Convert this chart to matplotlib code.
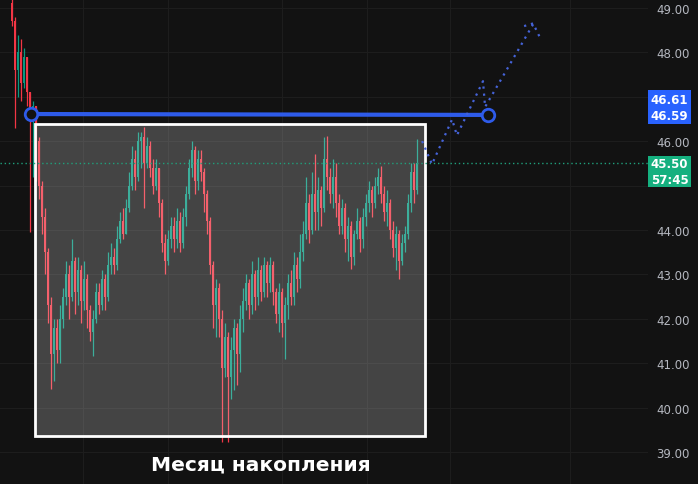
import numpy as np
import matplotlib
matplotlib.use("Agg")
import matplotlib.pyplot as plt
from matplotlib.patches import Rectangle

# candle data (one candle per bar, open = previous close)
first_open = 49.10
closes = [48.7, 47.6, 48.0, 47.3, 47.9, 47.1, 46.5, 46.8, 46.0, 45.0,
          44.3, 43.5, 42.3, 41.2, 41.8, 41.3, 42.0, 42.5, 43.0, 42.5,
          43.3, 42.6, 43.1, 42.4, 42.9, 42.2, 41.7, 42.0, 42.6, 42.3,
          42.9, 42.5, 43.2, 43.4, 43.2, 43.8, 44.2, 43.9, 44.5, 45.0,
          45.6, 45.2, 46.0, 46.1, 45.5, 45.9, 45.4, 45.0, 45.4, 44.6,
          43.7, 43.3, 43.8, 44.1, 43.8, 44.2, 43.7, 44.3, 44.8, 45.4,
          45.8, 45.1, 45.6, 45.3, 44.8, 44.2, 43.2, 42.3, 42.7, 42.0,
          40.9, 41.6, 40.7, 41.3, 41.8, 41.2, 42.0, 42.4, 42.8, 42.3,
          43.0, 42.5, 43.1, 42.6, 43.2, 42.8, 43.2, 42.6, 42.1, 42.6,
          41.9, 42.3, 42.8, 42.5, 43.2, 42.9, 43.5, 43.9, 44.6, 44.0,
          44.8, 44.4, 44.9, 44.5, 45.6, 45.2, 44.8, 45.2, 44.6, 44.1,
          44.5, 43.8, 44.1, 43.4, 43.9, 44.2, 43.8, 44.3, 44.6, 44.9,
          44.6, 45.0, 45.2, 44.8, 44.4, 44.6, 44.0, 43.6, 43.9, 43.3,
          43.7, 43.9, 44.6, 45.3, 44.9, 45.5]
highs = [49.2, 48.8, 48.4, 48.3, 48.1, 47.9, 47.1, 46.9, 46.8, 46.1,
         45.1, 44.5, 43.6, 42.5, 42.0, 42.0, 42.3, 42.7, 43.3, 43.2,
         43.8, 43.4, 43.4, 43.2, 43.3, 43.0, 42.3, 42.2, 42.8, 42.8,
         43.1, 43.0, 43.5, 43.7, 43.6, 44.1, 44.4, 44.5, 44.7, 45.3,
         45.9, 45.8, 46.2, 46.2, 46.32, 46.1, 46.0, 45.6, 45.6, 45.4,
         44.7, 43.9, 44.0, 44.3, 44.3, 44.5, 44.4, 44.5, 45.0, 45.6,
         46.0, 45.9, 45.8, 45.8, 45.4, 44.9, 44.3, 43.3, 42.9, 42.8,
         42.2, 41.9, 41.7, 41.6, 42.0, 41.9, 42.3, 42.7, 43.0, 42.9,
         43.3, 43.1, 43.4, 43.2, 43.4, 43.3, 43.4, 43.3, 42.7, 42.8,
         42.7, 42.5, 43.0, 43.1, 43.5, 43.4, 43.9, 44.2, 45.2, 44.8,
         45.3, 45.7, 45.2, 45.0, 46.1, 46.12, 45.4, 45.6, 45.5, 44.8,
         44.7, 44.6, 44.3, 44.2, 44.0, 44.5, 44.3, 44.5, 44.8, 45.1,
         45.0, 45.2, 45.4, 45.44, 45.0, 44.9, 44.7, 44.2, 44.1, 44.0,
         43.9, 44.1, 44.8, 45.5, 45.5, 46.05]
lows = [48.6, 46.3, 47.0, 46.9, 47.2, 46.8, 43.95, 45.2, 45.1, 44.7,
        43.9, 43.0, 41.9, 40.42, 40.6, 41.0, 41.0, 41.8, 42.3, 42.0,
        42.4, 42.1, 42.3, 41.9, 42.2, 41.8, 41.5, 41.16, 41.9, 42.1,
        42.2, 42.2, 42.4, 43.0, 43.0, 43.1, 43.7, 43.8, 43.9, 44.4,
        44.9, 44.9, 45.1, 45.4, 44.5, 45.4, 45.2, 44.8, 44.9, 44.3,
        43.5, 43.0, 43.2, 43.6, 43.5, 43.6, 43.5, 43.6, 44.1, 44.7,
        45.2, 44.8, 44.9, 45.1, 44.4, 43.9, 43.0, 41.8, 41.6, 41.6,
        39.22, 40.7, 39.22, 40.2, 40.4, 40.5, 40.8, 41.7, 42.2, 42.0,
        42.1, 42.2, 42.3, 42.4, 42.5, 42.5, 42.6, 42.3, 41.9, 41.7,
        41.6, 41.1, 42.0, 42.3, 42.3, 42.6, 42.7, 43.3, 43.8, 43.7,
        43.9, 44.0, 44.0, 44.1, 44.4, 44.9, 44.6, 44.5, 44.3, 43.9,
        43.9, 43.5, 43.3, 43.12, 43.2, 43.8, 43.5, 43.6, 44.1, 44.4,
        44.3, 44.5, 44.8, 44.6, 44.2, 44.1, 43.8, 43.4, 43.1, 42.9,
        43.2, 43.5, 43.8, 44.4, 44.6, 44.8]

# drawings
level_left = 46.61
level_right = 46.59
level_x = [6.3, 158.7]
box_x = [7.7, 137.7]
box_y = [39.36, 46.39]
last_price = 45.50
timer_text = "57:45"
path_x = [136.7, 140.0, 146.7, 148.3, 157.0, 157.7, 173.7]
path_y = [46.00, 45.48, 46.49, 46.13, 47.35, 46.77, 48.63]
head_x = [170.7, 173.7, 176.0]
head_y = [48.59, 48.65, 48.33]
yticks = [39, 40, 41, 42, 43, 44, 45, 46, 47, 48, 49]
hidden_ticks = [45, 47]  # covered by the price labels
grid_x = [23.7, 52, 90, 118.3, 146, 186]
title = "Месяц накопления"

bg = "#121212"
red = "#f23645"
green = "#089981"
blue = "#2e5bea"
W, H = 698, 485

opens = [first_open] + closes[:-1]
o = np.array(opens)
c = np.array(closes)
h = np.array(highs)
l = np.array(lows)
idx = np.arange(len(c))
cols = np.where(c >= o, green, red)

fig = plt.figure(figsize=(W / 100, H / 100), dpi=100, facecolor=bg)
ax = fig.add_axes([0, 0, 648 / W, 1])
ax.set_facecolor(bg)
ax.set_xlim(-4, 212)
ax.set_ylim(38.28, 49.2)

for gy in yticks:
    ax.axhline(gy, color="#1d1d1d", lw=0.8, zorder=0)
for gx in grid_x:
    ax.axvline(gx, color="#1d1d1d", lw=0.8, zorder=0)

ax.vlines(idx, l, h, colors=cols, lw=0.9, zorder=2)
ax.bar(idx, np.abs(c - o), bottom=np.minimum(o, c), width=0.6,
       color=cols, linewidth=0, zorder=2)

ax.add_patch(Rectangle((box_x[0], box_y[0]), box_x[1] - box_x[0], box_y[1] - box_y[0],
                       facecolor=(1, 1, 1, 0.21), edgecolor="white", lw=2, zorder=3))

ax.axhline(last_price, color="#1fa07c", lw=1, ls=(0, (1, 2)), zorder=4)

ax.plot(level_x, [level_left, level_right], color=blue, lw=3, zorder=5,
        solid_capstyle="butt")
ax.plot(level_x, [level_left, level_right], "o", ms=9, mfc=bg, mec=blue, mew=2, zorder=6)

ax.plot(path_x, path_y, color="#4563d8", lw=1.6, ls=(0, (1, 2.2)), zorder=5)
ax.plot(head_x, head_y, color="#4563d8", lw=1.6, ls=(0, (1, 2.2)), zorder=5)

ax.set_xticks([])
ax.yaxis.tick_right()
ax.set_yticks(yticks)
ax.set_yticklabels(["" if v in hidden_ticks else f"{v:.2f}" for v in yticks])
ax.tick_params(axis="y", length=0, pad=6, labelsize=8.5, labelcolor="#b5b8c0")
for s in ax.spines.values():
    s.set_visible(False)

ax.text(0.402, 0.042, title, transform=ax.transAxes, ha="center", va="center",
        color="white", fontsize=14.5, fontweight="bold")

# price labels on the scale (pixel boxes)
def scale_label(top, bottom, color, lines):
    fig.add_artist(Rectangle((648 / W, 1 - bottom / H), 43 / W, (bottom - top) / H,
                             transform=fig.transFigure, facecolor=color, edgecolor="none",
                             zorder=10))
    fig.text(669.5 / W, 1 - (top + bottom) / 2 / H, lines, ha="center", va="center",
             color="white", fontsize=8.5, fontweight="bold", linespacing=1.3, zorder=11)

scale_label(91, 125, "#2962ff", f"{level_left:.2f}\n{level_right:.2f}")
scale_label(157, 188, "#15b07f", f"{last_price:.2f}\n{timer_text}")

fig.savefig("out.png", dpi=100, facecolor=bg)
